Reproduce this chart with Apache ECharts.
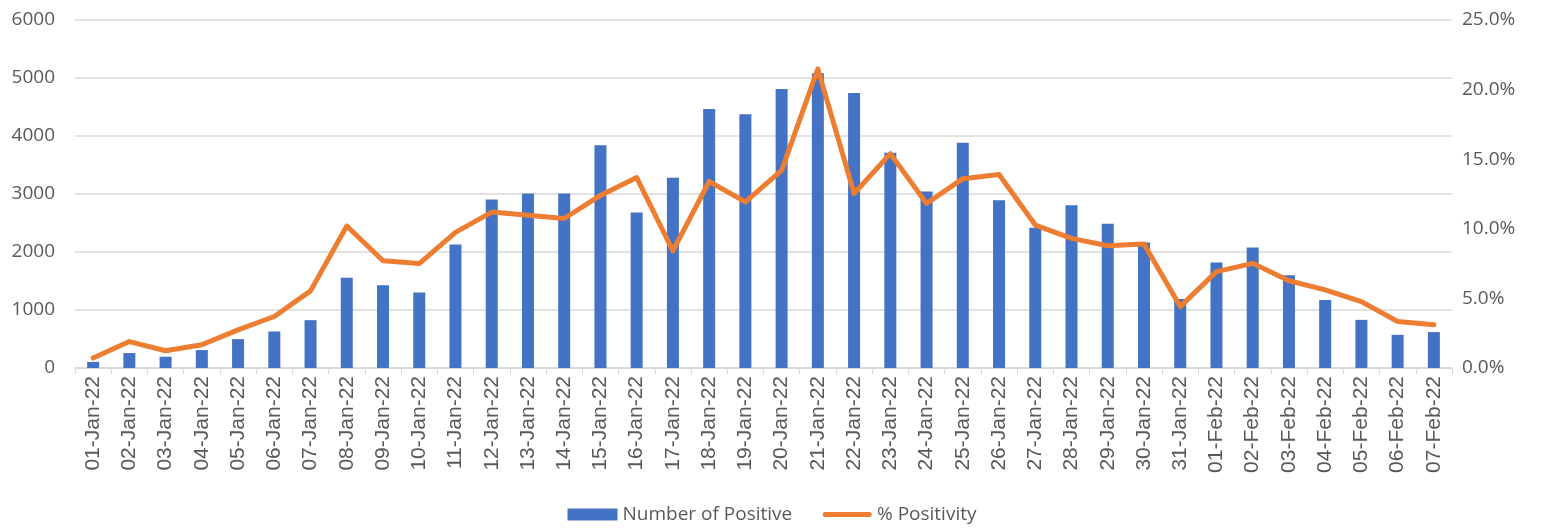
<!DOCTYPE html>
<html lang="en" style="height: 100%">
<head>
  <meta charset="utf-8">
</head>
<body style="height: 100%; margin: 0; background: #fff">
  <div id="container" style="width: 1544px; height: 531px"></div>
  <script src="https://cdn.jsdelivr.net/npm/echarts@6/dist/echarts.min.js"></script>
  <script type="text/javascript">
    // dates on the x axis
    const dates = [
      '01-Jan-22', '02-Jan-22', '03-Jan-22', '04-Jan-22', '05-Jan-22', '06-Jan-22', '07-Jan-22',
      '08-Jan-22', '09-Jan-22', '10-Jan-22', '11-Jan-22', '12-Jan-22', '13-Jan-22', '14-Jan-22',
      '15-Jan-22', '16-Jan-22', '17-Jan-22', '18-Jan-22', '19-Jan-22', '20-Jan-22', '21-Jan-22',
      '22-Jan-22', '23-Jan-22', '24-Jan-22', '25-Jan-22', '26-Jan-22', '27-Jan-22', '28-Jan-22',
      '29-Jan-22', '30-Jan-22', '31-Jan-22', '01-Feb-22', '02-Feb-22', '03-Feb-22', '04-Feb-22',
      '05-Feb-22', '06-Feb-22', '07-Feb-22'
    ];
    // number of positive tests
    const positives = [
      105, 258, 195, 309, 498, 630, 825, 1558, 1426, 1300, 2130, 2904, 3007, 3007,
      3842, 2680, 3282, 4467, 4375, 4811, 5080, 4742, 3711, 3041, 3883, 2892, 2416, 2806,
      2485, 2165, 1191, 1821, 2079, 1598, 1174, 830, 572, 619
    ];
    // % positivity (fraction)
    const positivity = [
      0.0072, 0.019, 0.0124, 0.0167, 0.0274, 0.037, 0.0554, 0.102, 0.077, 0.075, 0.0974, 0.112, 0.1098, 0.1074,
      0.124, 0.1368, 0.0842, 0.134, 0.1193, 0.142, 0.2149, 0.1254, 0.154, 0.1182, 0.136, 0.139, 0.1027, 0.0931,
      0.0878, 0.089, 0.0441, 0.0692, 0.0752, 0.0627, 0.0561, 0.0477, 0.0334, 0.031
    ];

    var dom = document.getElementById('container');
    var myChart = echarts.init(dom, null, { renderer: 'canvas' });
    var textColor = '#595959';
    var gridColor = '#d9d9d9';
    // thick rounded line for the legend, padded so it sits centred in a 50x12 box
    var lineIcon = 'path://M0,0L0,0M0,12L0,12M3,3.5L47,3.5A2.5,2.5,0,0,1,47,8.5L3,8.5A2.5,2.5,0,0,1,3,3.5Z';

    var option = {
      animation: false,
      textStyle: { fontFamily: 'Open Sans' },
      grid: { left: 75, right: 92, top: 20, bottom: 163 },
      legend: {
        bottom: 2,
        left: 'center',
        itemGap: 30,
        itemWidth: 50,
        itemHeight: 12,
        textStyle: { color: textColor, fontSize: 19, fontFamily: 'Open Sans' },
        data: [
          { name: 'Number of Positive', icon: 'rect' },
          { name: '% Positivity', icon: lineIcon }
        ]
      },
      xAxis: {
        type: 'category',
        data: dates,
        axisLine: { lineStyle: { color: gridColor, width: 1.5 } },
        axisTick: { show: true, length: 6, lineStyle: { color: gridColor } },
        axisLabel: {
          rotate: 90,
          margin: 8,
          interval: 0,
          color: textColor,
          fontSize: 21,
          fontFamily: 'Liberation Sans'
        }
      },
      yAxis: [
        {
          type: 'value',
          min: 0,
          max: 6000,
          interval: 1000,
          axisLine: { show: false },
          axisTick: { show: false },
          splitLine: { lineStyle: { color: gridColor, width: 1.5 } },
          axisLabel: {
            color: textColor,
            fontSize: 19,
            margin: 20,
            formatter: function (v) { return String(v); }
          }
        },
        {
          type: 'value',
          min: 0,
          max: 0.25,
          interval: 0.05,
          axisLine: { show: false },
          axisTick: { show: false },
          splitLine: { show: false },
          axisLabel: {
            color: textColor,
            fontSize: 19,
            margin: 10,
            formatter: function (v) { return (v * 100).toFixed(1) + '%'; }
          }
        }
      ],
      series: [
        {
          name: 'Number of Positive',
          type: 'bar',
          data: positives,
          barWidth: 12,
          itemStyle: { color: '#4472c4' }
        },
        {
          name: '% Positivity',
          type: 'line',
          yAxisIndex: 1,
          data: positivity,
          showSymbol: false,
          symbol: 'none',
          lineStyle: { color: '#ed7d31', width: 5, cap: 'round', join: 'round' },
          itemStyle: { color: '#ed7d31' }
        }
      ]
    };

    myChart.setOption(option);
    window.addEventListener('resize', myChart.resize);
  </script>
</body>
</html>
